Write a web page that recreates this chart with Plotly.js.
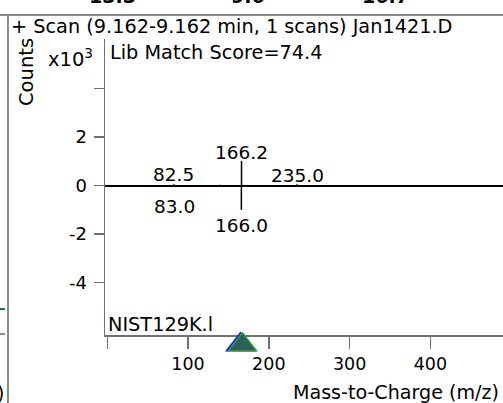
<!DOCTYPE html>
<html>
<head>
<meta charset="utf-8">
<script src="https://cdn.plot.ly/plotly-3.0.1.min.js"></script>
<style>html,body{margin:0;padding:0;background:#fff;}#chart{width:503px;height:403px;}</style>
</head>
<body>
<div id="chart"></div>
<script>
// ---- Data ----
// Acquired scan (upper, positive)
const scanMz = [41.0, 55.0, 69.0, 82.5, 96.0, 140.0, 166.2, 235.0, 300.0, 360.0];
const scanCounts = [0.03, 0.03, 0.03, 0.06, 0.03, 0.04, 1.02, 0.06, 0.02, 0.02]; // x10^3
// Library spectrum (lower, mirrored negative)
const libMz = [83.0, 166.0];
const libCounts = [-0.05, -1.0]; // x10^3
// Labeled peaks
const labelMz = [166.2, 82.5, 235.0, 83.0, 166.0];
const labelText = ["166.2", "82.5", "235.0", "83.0", "166.0"];
const labelCounts = [1.02, 0.06, 0.06, -0.05, -1.0];
const labelShift = [8, 10, 9, -20, -16];
// Precursor marker
const precursorMz = 166.1;
// Axis ticks
const xTickVals = [0, 100, 200, 300, 400];
const xTickText = ["", "100", "200", "300", "400"];
const yTickVals = [-4, -2, 0, 2, 4];
const yTickText = ["-4", "-2", "0", "2", ""];
// Cut-off numbers from the panel above
const topNumbers = ["13.3", "9.6", "16.7"];
const topNumbersPx = [112, 248, 385];

const FONT = 'DejaVu Sans';
const L = 105, T = 39, B = 335, PW = 398, PH = 296;
const px2x = p => (p - L) / PW;
const py2y = p => (B - p) / PH;
const xRange = [-2.8, 489.9];
const yRange = [-6.16, 6.05];
const pxPerX = PW / (xRange[1] - xRange[0]);

function sticks(mz, val) {
  const xs = [], ys = [];
  mz.forEach((m, i) => { xs.push(m, m, null); ys.push(0, val[i], null); });
  return {xs, ys};
}
const s1 = sticks(scanMz, scanCounts);
const s2 = sticks(libMz, libCounts);

const traces = [
  {x: s1.xs, y: s1.ys, type: 'scatter', mode: 'lines', line: {color: '#000', width: 1.5}, hoverinfo: 'skip', showlegend: false},
  {x: s2.xs, y: s2.ys, type: 'scatter', mode: 'lines', line: {color: '#000', width: 1.5}, hoverinfo: 'skip', showlegend: false}
];

const ann = [];
labelMz.forEach((m, i) => ann.push({x: m, y: labelCounts[i], xref: 'x', yref: 'y', text: labelText[i], showarrow: false,
  xanchor: 'center', yanchor: 'middle', yshift: labelShift[i], font: {family: FONT, size: 18.5, color: '#000'}}));
function pAnn(text, px, py, xa, size, extra) {
  return Object.assign({x: px2x(px), y: py2y(py), xref: 'paper', yref: 'paper', text: text, showarrow: false,
    xanchor: xa, yanchor: 'middle', font: {family: FONT, size: size, color: '#000'}}, extra || {});
}
ann.push(pAnn('+ Scan (9.162-9.162 min, 1 scans) Jan1421.D', 9, 27, 'left', 19.3));
ann.push(pAnn('Counts', 26, 72, 'center', 19.5, {textangle: -90}));
ann.push(pAnn('x10<sup>3</sup>', 46, 58, 'left', 19.5));
ann.push(pAnn('Lib Match Score=74.4', 108, 53, 'left', 19.3));
ann.push(pAnn('NIST129K.l', 106, 324, 'left', 19.3));
ann.push(pAnn('Mass-to-Charge (m/z)', 291, 392, 'left', 19.1));
ann.push(pAnn('0)', 7, 393, 'right', 19));
topNumbers.forEach((t, i) => ann.push(pAnn('<b>' + t + '</b>', topNumbersPx[i], -4, 'center', 19)));

// precursor triangle (data x, pixel-sized)
function tri(cx, color) {
  const hw = 14 / pxPerX;
  return {type: 'path', xref: 'x', yref: 'paper', layer: 'above',
    path: 'M' + (cx - hw) + ',' + py2y(350.7) + ' L' + (cx + hw) + ',' + py2y(350.7) + ' L' + cx + ',' + py2y(332.7) + ' Z',
    fillcolor: '#2b5f58', line: {color: color, width: 1.5}};
}
const shapes = [
  {type: 'line', xref: 'paper', yref: 'paper', x0: px2x(0), x1: px2x(503), y0: py2y(15), y1: py2y(15), line: {color: '#8a8a8a', width: 2}},
  {type: 'line', xref: 'paper', yref: 'paper', x0: px2x(8), x1: px2x(8), y0: py2y(15), y1: py2y(403), line: {color: '#8a8a8a', width: 2}},
  {type: 'line', xref: 'paper', yref: 'paper', x0: px2x(0), x1: px2x(5), y0: py2y(309), y1: py2y(309), line: {color: '#2e6b5e', width: 2}},
  {type: 'line', xref: 'paper', yref: 'paper', x0: px2x(0), x1: px2x(5), y0: py2y(334), y1: py2y(334), line: {color: '#8a8a8a', width: 2}},
  tri(precursorMz - 1 / pxPerX, '#1a1aff'),
  tri(precursorMz + 1 / pxPerX, '#2ca02c')
];

const layout = {
  width: 503, height: 403,
  margin: {l: L, r: 0, t: T, b: 403 - B, pad: 0},
  paper_bgcolor: '#fff', plot_bgcolor: '#fff',
  font: {family: FONT, size: 17, color: '#000'},
  showlegend: false,
  xaxis: {range: xRange, showgrid: false, zeroline: false, showline: true, linecolor: '#707070', linewidth: 1.5,
    ticks: 'outside', ticklen: 12, tickcolor: '#707070', tickwidth: 1.5, tickvals: xTickVals, ticktext: xTickText,
    tickfont: {family: FONT, size: 17.5, color: '#000'}, fixedrange: true},
  yaxis: {range: yRange, showgrid: false, zeroline: true, zerolinecolor: '#000', zerolinewidth: 2, showline: true,
    linecolor: '#707070', linewidth: 1.5, ticks: 'outside', ticklen: 10, tickcolor: '#707070', tickwidth: 1.5,
    ticklabelstandoff: 3, tickvals: yTickVals, ticktext: yTickText, tickfont: {family: FONT, size: 18, color: '#000'}, fixedrange: true},
  annotations: ann,
  shapes: shapes
};
Plotly.newPlot('chart', traces, layout, {staticPlot: true, displayModeBar: false});
</script>
</body>
</html>
